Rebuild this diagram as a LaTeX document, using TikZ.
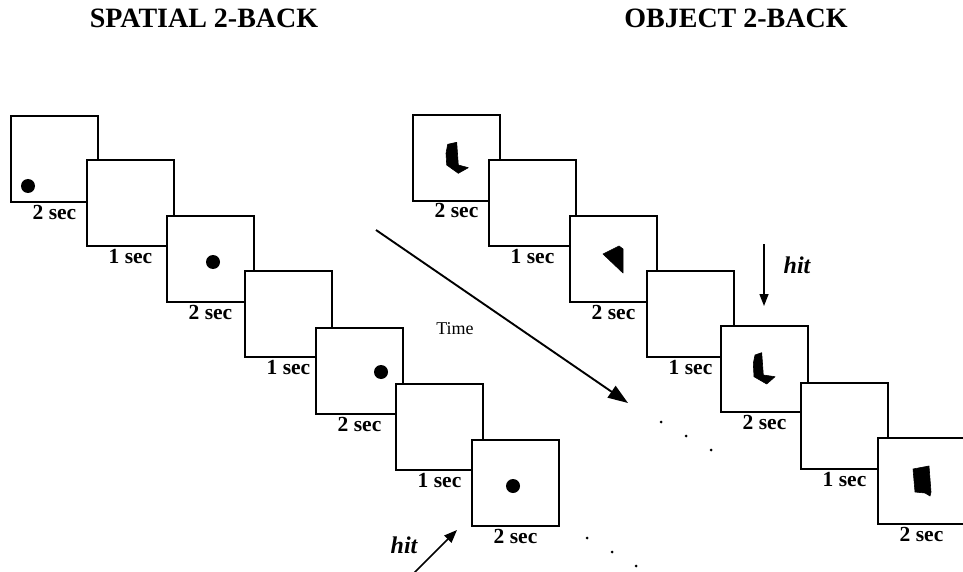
\documentclass[tikz,border=0pt]{standalone}
\usepackage{fontspec}
\setmainfont{Liberation Serif}
\usetikzlibrary{arrows.meta}
\begin{document}
\begin{tikzpicture}[x=1pt,y=-1pt,
  frame/.style={draw,fill=white,line width=1.2pt,minimum width=87pt,minimum height=86pt,
    inner sep=0pt,outer sep=0pt,anchor=north west},
  lab/.style={font=\fontsize{21.5}{24}\selectfont\bfseries,anchor=base,inner sep=0pt},
  title/.style={font=\fontsize{28}{30}\selectfont\bfseries,anchor=base,inner sep=0pt},
  hitlab/.style={font=\fontsize{24}{26}\selectfont\bfseries\itshape,inner sep=0pt},
  timelab/.style={font=\fontsize{18}{20}\selectfont,inner sep=0pt},
  spot/.style={fill=black},
  blob/.style={fill=black,draw=black,line width=0.6pt,line join=round},
  tiny/.style={fill=black}]
\useasboundingbox (0,0) rectangle (963,572);

% headings
\node[title] (hs) at (204,28) {SPATIAL 2-BACK};
\node[title] (ho) at (736,28) {OBJECT 2-BACK};

% spatial sequence
\foreach \n/\x/\y/\t in {l1/11/116/2, l2/87/160/1, l3/167/216/2, l4/245/271/1,
                         l5/316/328/2, l6/396/384/1, l7/472/440/2} {
  \node[frame] (\n) at (\x,\y) {};
  \node[lab] (\n t) at ([yshift=-17pt]\n.south) {\t\ sec};
}
\fill[spot] (28,186) circle (7pt);
\fill[spot] (213,262) circle (7pt);
\fill[spot] (381,372) circle (7pt);
\fill[spot] (513,486) circle (7pt);

% object sequence
\foreach \n/\x/\y/\t in {r1/413/115/2, r2/489/160/1, r3/570/216/2, r4/647/271/1,
                         r5/721/326/2, r6/801/383/1, r7/878/438/2} {
  \node[frame] (\n) at (\x,\y) {};
  \node[lab] (\n t) at ([yshift=-17pt]\n.south) {\t\ sec};
}
\filldraw[blob] (447.7,144.3) -- (456.7,142.3) -- (458.3,165) -- (468.3,167.7)
  -- (458.3,173.3) -- (446.7,165) -- (446,153.3) -- cycle;
\filldraw[blob] (603,254) -- (619,246) -- (623,249) -- (623,273) -- cycle;
\filldraw[blob] (755,355) -- (761.7,352.7) -- (763.3,375) -- (775,376.7)
  -- (766.7,384) -- (754,376.7) -- (753.3,363.3) -- cycle;
\filldraw[blob] (913,469) -- (929,466) -- (931,492) -- (930,496) -- (925,493)
  -- (915,492) -- cycle;

% continuation dots
\foreach \px/\py in {587/538, 612/552, 636/566, 661/422, 686/436, 711/450}
  \fill[tiny] (\px,\py) circle (1.5pt);

% time arrow
\coordinate (ts) at (376,230);
\coordinate (te) at (628,403);
\draw[line width=1.9pt,-{Triangle[length=20pt,width=14pt]}] (ts) -- (te);
\node[timelab] (time) at (455,329) {Time};

% hit markers
\coordinate (ha) at (764,244);
\coordinate (hb) at (764,306);
\draw[line width=1.4pt,-{Triangle[length=12pt,width=9pt]}] (ha) -- (hb);
\node[hitlab] (hitr) at (797,265) {hit};

\coordinate (hc) at (413,574);
\coordinate (hd) at (457,530);
\draw[line width=1.6pt,-{Triangle[length=13pt,width=10pt]}] (hc) -- (hd);
\node[hitlab] (hitl) at (404,545) {hit};
\end{tikzpicture}
\end{document}
